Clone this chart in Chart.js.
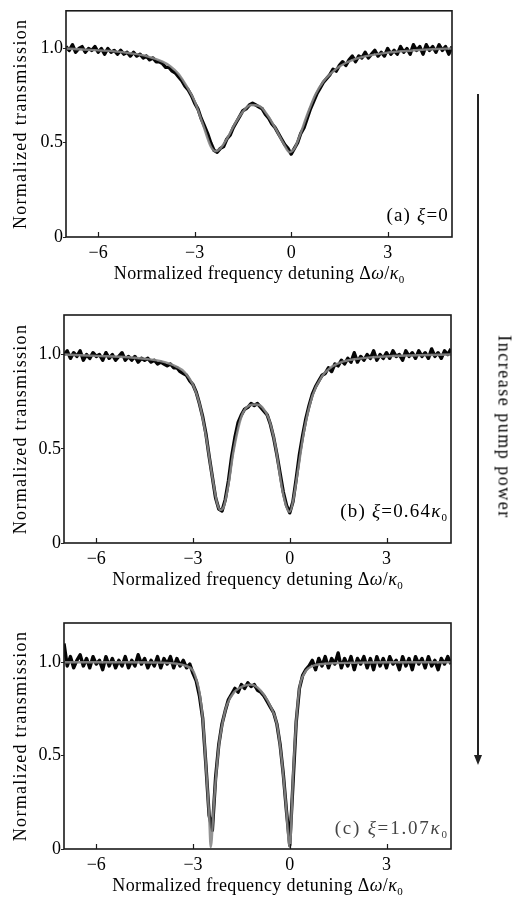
<!DOCTYPE html>
<html>
<head>
<meta charset="utf-8">
<script src="https://cdn.jsdelivr.net/npm/chart.js@4.4.1/dist/chart.umd.min.js"></script>
<style>
  html,body{margin:0;padding:0;background:#fff;}
  body{width:513px;height:897px;position:relative;overflow:hidden;font-family:"Liberation Serif",serif;}
  canvas{position:absolute;left:0;}
</style>
</head>
<body>
<canvas id="ca" width="513" height="300" style="top:0px;width:513px;height:300px"></canvas>
<canvas id="cb" width="513" height="300" style="top:300px;width:513px;height:300px"></canvas>
<canvas id="cc" width="513" height="297" style="top:600px;width:513px;height:297px"></canvas>
<div style="position:absolute;left:477px;top:94px;width:1.5px;height:662px;background:#222"></div>
<div style="position:absolute;left:473.5px;top:755px;width:0;height:0;border-left:4.5px solid transparent;border-right:4.5px solid transparent;border-top:10px solid #222"></div>
<div style="position:absolute;left:0;top:0;transform:translate(504px,427px) translate(-50%,-50%) rotate(90deg);font:18px 'Liberation Serif';letter-spacing:1.5px;white-space:nowrap;color:#000">Increase pump power</div>
<script>
// ---------- data ----------
const xTickValues = [-6, -3, 0, 3];
const xTickLabels = ["\u22126", "\u22123", "0", "3"];
const yTickValues = [0, 0.5, 1.0];
const yTickLabels = ["0", "0.5", "1.0"];

const sampleX = [-7.0,-6.9,-6.8,-6.7,-6.6,-6.5,-6.4,-6.3,-6.2,-6.1,
  -6.0,-5.9,-5.8,-5.7,-5.6,-5.5,-5.4,-5.3,-5.2,-5.1,
  -5.0,-4.9,-4.8,-4.7,-4.6,-4.5,-4.4,-4.3,-4.2,-4.1,
  -4.0,-3.9,-3.8,-3.7,-3.6,-3.5,-3.4,-3.3,-3.2,-3.1,
  -3.0,-2.9,-2.8,-2.7,-2.6,-2.5,-2.4,-2.3,-2.2,-2.1,
  -2.0,-1.9,-1.8,-1.7,-1.6,-1.5,-1.4,-1.3,-1.2,-1.1,
  -1.0,-0.9,-0.8,-0.7,-0.6,-0.5,-0.4,-0.3,-0.2,-0.1,
  0.0,0.1,0.2,0.3,0.4,0.5,0.6,0.7,0.8,0.9,
  1.0,1.1,1.2,1.3,1.4,1.5,1.6,1.7,1.8,1.9,
  2.0,2.1,2.2,2.3,2.4,2.5,2.6,2.7,2.8,2.9,
  3.0,3.1,3.2,3.3,3.4,3.5,3.6,3.7,3.8,3.9,
  4.0,4.1,4.2,4.3,4.4,4.5,4.6,4.7,4.8,4.9,
  5.0];

// measured (noisy) transmission, panel (a) xi = 0
const measuredA = [1.01,0.99,1.02,0.98,1.00,1.01,0.98,1.00,0.99,1.01,
  0.98,1.00,0.97,1.00,0.98,0.99,0.97,0.99,0.97,0.98,
  0.96,0.98,0.96,0.97,0.95,0.96,0.94,0.95,0.93,0.93,
  0.92,0.90,0.90,0.88,0.87,0.85,0.83,0.80,0.78,0.75,
  0.71,0.68,0.63,0.59,0.55,0.50,0.46,0.45,0.47,0.48,
  0.52,0.54,0.58,0.61,0.64,0.67,0.68,0.70,0.71,0.70,
  0.69,0.68,0.65,0.63,0.60,0.58,0.55,0.52,0.49,0.47,
  0.44,0.47,0.50,0.55,0.58,0.63,0.68,0.72,0.76,0.79,
  0.82,0.84,0.86,0.89,0.88,0.91,0.93,0.91,0.94,0.96,
  0.93,0.96,0.95,0.98,0.95,0.97,0.99,0.96,0.98,0.96,
  1.00,0.97,0.99,0.97,1.01,0.98,1.00,0.97,1.02,0.99,
  1.01,0.97,1.02,0.99,1.01,0.98,1.02,0.99,1.01,0.97,
  1.01];

// measured, panel (b) xi = 0.64 kappa0
const measuredB = [1.00,1.02,0.98,1.01,0.99,1.02,0.97,1.00,0.98,1.01,
  0.99,1.00,0.97,1.01,0.98,1.00,0.97,0.99,1.01,0.97,
  0.99,0.97,0.99,0.96,0.98,0.97,0.98,0.96,0.97,0.95,
  0.96,0.95,0.94,0.95,0.93,0.93,0.91,0.90,0.89,0.86,
  0.84,0.80,0.74,0.67,0.58,0.46,0.35,0.24,0.18,0.17,
  0.23,0.33,0.46,0.56,0.64,0.68,0.71,0.72,0.74,0.73,
  0.74,0.72,0.70,0.68,0.63,0.56,0.47,0.37,0.27,0.20,
  0.16,0.22,0.34,0.47,0.57,0.66,0.73,0.79,0.83,0.86,
  0.89,0.90,0.93,0.91,0.95,0.94,0.97,0.95,0.98,0.96,
  1.01,0.96,0.99,0.97,1.00,0.98,1.02,0.97,1.00,0.98,
  1.01,0.98,1.02,0.99,1.00,0.97,1.02,0.99,1.01,0.98,
  1.02,0.99,1.01,0.98,1.03,0.99,1.01,0.98,1.02,1.00,
  1.03];

// measured, panel (c) xi = 1.07 kappa0
const measuredC = [1.10,0.98,1.03,0.97,1.01,1.04,0.98,1.02,0.97,1.03,
  0.99,1.01,0.96,1.03,0.98,1.02,0.97,1.01,0.98,1.03,
  0.97,1.01,0.98,1.04,0.99,1.02,0.97,1.01,0.98,1.03,
  0.97,1.02,0.99,1.03,0.97,1.02,0.98,1.01,0.97,0.99,
  0.94,0.90,0.82,0.70,0.45,0.18,0.10,0.38,0.56,0.67,
  0.74,0.80,0.83,0.86,0.84,0.88,0.86,0.89,0.87,0.88,
  0.85,0.84,0.82,0.79,0.76,0.73,0.67,0.56,0.40,0.20,
  0.02,0.35,0.68,0.86,0.93,0.96,0.98,1.01,0.96,1.02,
  0.98,1.03,0.97,1.02,0.99,1.05,0.97,1.02,0.98,1.03,
  0.96,1.02,0.99,1.03,0.97,1.02,0.96,1.03,0.98,1.02,
  0.97,1.03,0.99,1.01,0.96,1.03,0.98,1.02,0.96,1.03,
  0.99,1.02,0.97,1.03,0.98,1.01,0.96,1.02,0.99,1.03,
  0.99];

// theoretical fits (gray curves)
const fitAX = [-7,-6.5,-6,-5.5,-5,-4.5,-4,-3.75,-3.5,-3.25,-3,-2.75,-2.5,-2.35,-2.2,-2,-1.75,-1.5,-1.25,-1,-0.75,-0.5,-0.25,-0.05,0.1,0.25,0.5,0.75,1,1.25,1.5,2,2.5,3,3.5,4,4.5,5];
const fitAY = [1.0,0.995,0.99,0.985,0.975,0.96,0.93,0.905,0.865,0.80,0.72,0.60,0.48,0.455,0.47,0.52,0.60,0.665,0.70,0.695,0.65,0.58,0.50,0.45,0.47,0.53,0.65,0.755,0.825,0.87,0.905,0.945,0.965,0.978,0.986,0.992,0.997,1.0];

const fitBX = [-7,-6,-5,-4.5,-4,-3.5,-3.25,-3,-2.8,-2.6,-2.4,-2.25,-2.15,-2.05,-1.9,-1.75,-1.5,-1.25,-1.05,-0.85,-0.65,-0.45,-0.25,-0.1,0,0.1,0.25,0.45,0.7,1,1.3,1.6,2,2.5,3,4,5];
const fitBY = [1.0,0.993,0.986,0.978,0.965,0.935,0.905,0.84,0.74,0.57,0.35,0.21,0.175,0.19,0.31,0.48,0.67,0.73,0.735,0.72,0.66,0.52,0.30,0.19,0.165,0.22,0.38,0.60,0.78,0.885,0.935,0.96,0.975,0.985,0.99,0.996,1.0];

const fitCX = [-7,-6,-5,-4,-3.5,-3.25,-3,-2.9,-2.8,-2.7,-2.6,-2.5,-2.45,-2.35,-2.2,-2.1,-1.95,-1.7,-1.4,-1.2,-1,-0.8,-0.6,-0.4,-0.25,-0.12,0,0.1,0.2,0.3,0.45,0.6,0.8,1.2,2,3,4,5];
const fitCY = [1.0,1.0,1.0,0.998,0.992,0.982,0.955,0.91,0.84,0.70,0.45,0.18,0.01,0.25,0.55,0.66,0.77,0.845,0.875,0.88,0.865,0.825,0.765,0.67,0.48,0.24,0.01,0.38,0.68,0.86,0.94,0.97,0.985,0.993,0.997,1.0,1.0,1.0];

// ---------- rendering ----------
const FAMILY = '"Liberation Serif", "Times New Roman", serif';
Chart.defaults.font.family = FAMILY;

function drawRuns(ctx, runs, x, y, align, size, spacing, color) {
  const fontFor = r => (r.it ? 'italic ' : '') + (r.sub ? Math.round(size * 0.6) : size) + 'px ' + FAMILY;
  ctx.fillStyle = color;
  ctx.textAlign = 'left';
  ctx.textBaseline = 'alphabetic';
  let total = 0;
  const widths = runs.map(r => {
    ctx.font = fontFor(r);
    ctx.letterSpacing = (r.sub ? 0 : spacing) + 'px';
    const w = ctx.measureText(r.t).width;
    total += w;
    return w;
  });
  let cx = align === 'right' ? x - total : (align === 'center' ? x - total / 2 : x);
  runs.forEach((r, i) => {
    ctx.font = fontFor(r);
    ctx.letterSpacing = (r.sub ? 0 : spacing) + 'px';
    ctx.fillText(r.t, cx, y + (r.sub ? size * 0.22 : 0));
    cx += widths[i];
  });
  ctx.letterSpacing = '0px';
}

const xTitleRuns = [{t: 'Normalized frequency detuning \u0394'}, {t: '\u03c9', it: true}, {t: '/'}, {t: '\u03ba', it: true}, {t: '0', sub: true}];
const yTitleRuns = [{t: 'Normalized transmission'}];

const deco = {
  id: 'deco',
  afterDraw(chart) {
    const o = chart.options.plugins.deco;
    const {ctx, chartArea: a} = chart;
    ctx.save();
    ctx.strokeStyle = '#1a1a1a';
    ctx.lineWidth = 1.6;
    ctx.strokeRect(a.left, a.top, a.right - a.left, a.bottom - a.top);
    const xs = chart.scales.x;
    ctx.lineWidth = 1.2;
    ctx.beginPath();
    xs.ticks.forEach(t => {
      const px = Math.round(xs.getPixelForValue(t.value)) + 0.5;
      ctx.moveTo(px, a.bottom);
      ctx.lineTo(px, a.bottom - 5);
    });
    ctx.stroke();
    // panel label
    drawRuns(ctx, o.label, a.right - o.labelRight, a.bottom - o.labelUp, 'right', 19, o.labelSpacing, o.labelColor);
    // x title
    drawRuns(ctx, xTitleRuns, (a.left + a.right) / 2, a.bottom + 42, 'center', 18, 0.4, '#000');
    // y title
    ctx.save();
    ctx.translate(26, (a.top + a.bottom) / 2);
    ctx.rotate(-Math.PI / 2);
    drawRuns(ctx, yTitleRuns, 0, 0, 'center', 18, 1.3, '#000');
    ctx.restore();
    ctx.restore();
  }
};

function pairs(xs, ys) { return xs.map((x, i) => ({x: x, y: ys[i]})); }

function makePanel(id, cfg) {
  const canvas = document.getElementById(id);
  return new Chart(canvas, {
    type: 'line',
    data: {
      datasets: [
        {data: pairs(cfg.fitX, cfg.fitY), borderColor: 'rgba(135,135,135,0.9)', borderWidth: 2.4,
         pointRadius: 0, cubicInterpolationMode: 'monotone', order: 0},
        {data: pairs(sampleX, cfg.measured), borderColor: '#050505', borderWidth: 3.4,
         borderJoinStyle: 'round', pointRadius: 0, tension: 0, order: 1}
      ]
    },
    options: {
      responsive: false, animation: false, devicePixelRatio: 1,
      layout: {padding: {top: cfg.top, right: 513 - cfg.right, left: 0, bottom: 0}},
      plugins: {
        legend: {display: false}, tooltip: {enabled: false},
        deco: cfg.deco
      },
      scales: {
        x: {
          type: 'linear', min: -7, max: 5,
          grid: {display: false, drawTicks: false},
          border: {display: false},
          afterBuildTicks: s => { s.ticks = xTickValues.map(v => ({value: v})); },
          afterFit: s => { s.height = cfg.xh; },
          ticks: {autoSkip: false, maxRotation: 0, padding: 5, color: '#000',
                  font: {size: 18}, callback: v => xTickLabels[xTickValues.indexOf(v)]}
        },
        y: {
          type: 'linear', min: 0, max: cfg.ymax,
          grid: {drawOnChartArea: false, drawTicks: true, tickLength: 3, color: '#222'},
          border: {display: false},
          afterBuildTicks: s => { s.ticks = yTickValues.map(v => ({value: v})); },
          afterFit: s => { s.width = cfg.left; },
          ticks: {padding: 0, color: '#000', font: {size: 18},
                  callback: v => yTickLabels[yTickValues.indexOf(v)]}
        }
      }
    },
    plugins: [deco]
  });
}

makePanel('ca', {measured: measuredA, fitX: fitAX, fitY: fitAY, top: 10, right: 452, left: 66, xh: 63, ymax: 1.2,
  deco: {label: [{t: '(a) '}, {t: '\u03be', it: true}, {t: '=0'}], labelRight: 3, labelUp: 16, labelSpacing: 1.2, labelColor: '#000'}});
makePanel('cb', {measured: measuredB, fitX: fitBX, fitY: fitBY, top: 15, right: 451, left: 64, xh: 57, ymax: 1.21,
  deco: {label: [{t: '(b) '}, {t: '\u03be', it: true}, {t: '=0.64'}, {t: '\u03ba', it: true}, {t: '0', sub: true}], labelRight: 4, labelUp: 26, labelSpacing: 1.2, labelColor: '#000'}});
makePanel('cc', {measured: measuredC, fitX: fitCX, fitY: fitCY, top: 23, right: 451, left: 64, xh: 48, ymax: 1.21,
  deco: {label: [{t: '(c) '}, {t: '\u03be', it: true}, {t: '=1.07'}, {t: '\u03ba', it: true}, {t: '0', sub: true}], labelRight: 4, labelUp: 15, labelSpacing: 1.8, labelColor: '#444'}});
</script>
</body>
</html>
